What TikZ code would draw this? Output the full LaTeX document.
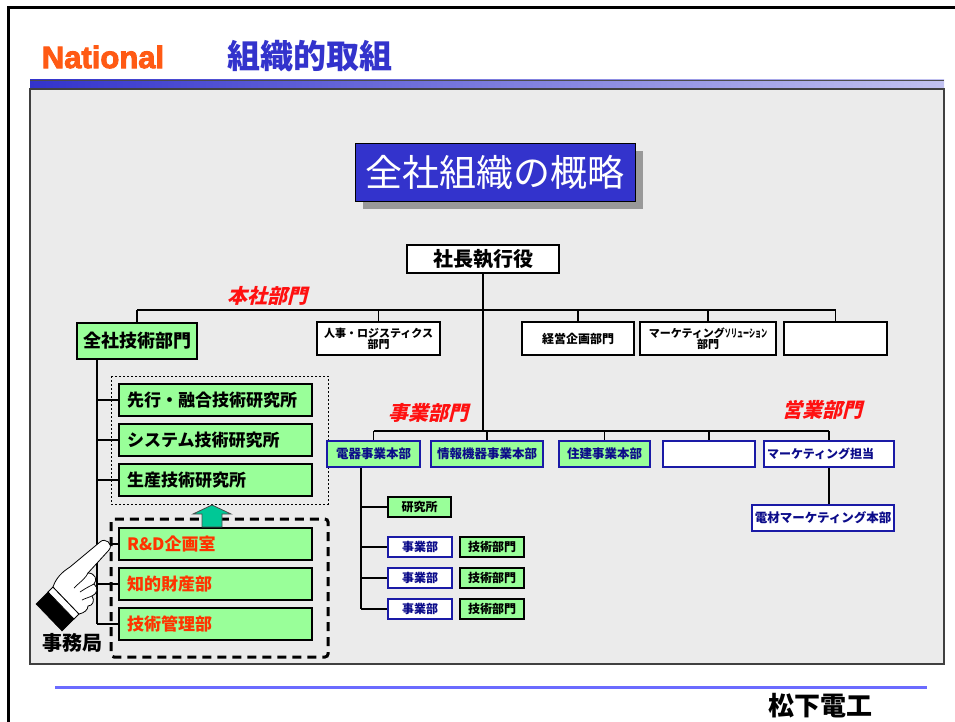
\documentclass[tikz,border=0pt]{standalone}
\usepackage{fontspec}
\setmainfont{Noto Sans CJK JP}
\newfontfamily\slantjp[FakeSlant=0.25]{Noto Sans CJK JP}
\newfontfamily\logofont[BoldFeatures={FakeBold=3}]{Liberation Sans}
\usetikzlibrary{positioning}

\definecolor{boxgreen}{HTML}{99FF99}
\definecolor{deptblue}{HTML}{1A1AA6}
\definecolor{deptnavy}{HTML}{0C0C8A}
\definecolor{titleblue}{HTML}{3333CC}
\definecolor{logored}{HTML}{FF5A14}
\definecolor{labelred}{HTML}{FF1010}
\definecolor{officered}{HTML}{FF3300}
\definecolor{panelgray}{HTML}{EBEBEB}
\definecolor{arrowteal}{HTML}{00C896}
\definecolor{footblue}{HTML}{6B6BFF}

\newcommand\psize[1]{\fontsize{#1}{#1}\selectfont}

\tikzset{
  line/.style={line width=1.2},
  greenbox/.style={draw=black, fill=boxgreen, line width=1.5, inner sep=1},
  whitebox/.style={draw=black, fill=white, line width=1.5, inner sep=1},
  bizbox/.style={draw=deptblue, fill=boxgreen, line width=1.5, inner sep=1, text=deptnavy, font=\psize{12.5}\bfseries, minimum height=26},
  bizwhite/.style={bizbox, fill=white},
  labbox/.style={greenbox, minimum height=32, text width=177, align=left, inner xsep=8, font=\psize{17}\bfseries},
  sectlabel/.style={text=labelred, font=\slantjp\bfseries\psize{20}},
  smallbox/.style={minimum width=64, minimum height=20, inner sep=1, font=\psize{12}\bfseries},
}

\begin{document}
\begin{tikzpicture}[x=1pt,y=-1pt]
  \useasboundingbox (0,0) rectangle (955,722);
  % page frame
  \draw[line width=3] (8,722) -- (8,8) -- (955,8);
  % header: logo, title and shaded bar
  \node[text=logored, font=\logofont\bfseries\psize{31}] (logo) at (103,57) {National};
  \node[text=titleblue, font=\psize{33}\bfseries] (title) at (310,56) {組織的取組};
  \shade[left color=titleblue, right color=titleblue!30] (30,80) rectangle (944,89);
  \draw[black!70] (30,80) -- (944,80);
  % grey panel
  \filldraw[fill=panelgray, draw=black!75, line width=1.2] (30,89) rectangle (944,664);
  % footer
  \draw[footblue, line width=3] (55,687) -- (927,687);
  \node[font=\psize{26}\bfseries] (company) at (820,706) {松下電工};

  % heading box with drop shadow
  \fill[black!40] (363,151) rectangle (643,209);
  \node[draw=black, fill=titleblue, text=white, minimum width=280, minimum height=58, font=\psize{37}] (head) at (495,172) {全社組織の概略};

  % top of the tree
  \node[whitebox, line width=2.5, minimum width=152, minimum height=28, font=\psize{20}\bfseries] (ceo) at (483,259) {社長執行役};
  \coordinate (hqbar) at (0,310);
  \coordinate (bizbar) at (0,431);
  \coordinate (tspine) at (97,0);
  \coordinate (dspine) at (361,0);

  % head office departments
  \node[sectlabel] (hqlabel) at (267,296) {本社部門};
  \node[greenbox, minimum width=120, minimum height=36, font=\psize{18}\bfseries] (tech) at (137,341) {全社技術部門};
  \node[whitebox, minimum width=123, minimum height=33, align=center, font=\psize{11}\bfseries] (hr) at (378.5,338.5) {人事・ロジスティクス\\部門};
  \node[whitebox, minimum width=112, minimum height=33, font=\psize{12}\bfseries] (plan) at (578,338.5) {経営企画部門};
  \node[whitebox, minimum width=136, minimum height=33, align=center, font=\psize{11}\bfseries] (mktsol) at (708,338.5) {マーケティング\scalebox{0.55}[1]{ソリューション}\\部門};
  \node[whitebox, minimum width=103, minimum height=33] (blank1) at (835.5,338.5) {};

  \draw[line] (ceo.south) -- (ceo.south |- bizbar);
  \draw[line] (tech.north |- hqbar) -- (blank1.north |- hqbar);
  \foreach \n in {tech,hr,plan,mktsol,blank1}
    \draw[line] (\n.north |- hqbar) -- (\n.north);

  % research labs and the office below them
  \draw[line width=0.7, dash pattern=on 2 off 2] (111,376) rectangle (328,504);
  \draw[line width=3, dash pattern=on 9 off 6, rounded corners=3] (111,519) rectangle (328,657);
  \node[labbox] (lab1) at (215.5,400) {先行・融合技術研究所};
  \node[labbox] (lab2) at (215.5,440) {システム技術研究所};
  \node[labbox] (lab3) at (215.5,480) {生産技術研究所};
  \node[labbox, text=officered] (rd) at (215.5,544) {R\&D企画室};
  \node[labbox, text=officered] (ip) at (215.5,584) {知的財産部};
  \node[labbox, text=officered] (mgmt) at (215.5,624) {技術管理部};
  \filldraw[fill=arrowteal, draw=black!70, line width=0.8] (202,527) -- (202,514) -- (193,514) -- (212,505) -- (231,514) -- (222,514) -- (222,527) -- cycle;

  \draw[line] (tech.south -| tspine) -- (mgmt.west -| tspine);
  \foreach \n in {lab1,lab2,lab3,rd,ip,mgmt}
    \draw[line] (\n.west -| tspine) -- (\n.west);

  % pointing hand
  \filldraw[fill=black] (36,604) -- (48,592) -- (74,619) -- (62,631) -- cycle;
  \filldraw[fill=white, line width=0.8] (48,592) -- (53,587) -- (79,614) -- (74,619) -- cycle;
  \filldraw[fill=white, line width=0.8] (53,587) .. controls (56,578) and (62,572) .. (70,567)
    -- (100,542) .. controls (105,537) and (114,544) .. (109,550) -- (88,573)
    .. controls (95,573) and (98,580) .. (94,584) .. controls (99,588) and (97,594) .. (92,596)
    .. controls (95,600) and (93,606) .. (88,606) .. controls (88,610) and (84,613) .. (79,614) -- cycle;
  \draw[line width=0.7] (74,588) .. controls (80,582) and (86,578) .. (88,573);
  \draw[line width=0.7] (80,592) .. controls (86,588) and (90,586) .. (94,584);
  \draw[line width=0.7] (82,600) .. controls (86,598) and (90,597) .. (92,596);
  \node[font=\psize{20}\bfseries] (office) at (72,643) {事務局};

  % business divisions
  \node[sectlabel] (bizlabel) at (428,413) {事業部門};
  \node[sectlabel] (saleslabel) at (822,410) {営業部門};
  \node[bizbox, minimum width=93] (den) at (373.5,454) {電器事業本部};
  \node[bizbox, minimum width=112] (info) at (487,454) {情報機器事業本部};
  \node[bizbox, minimum width=91] (juken) at (604.5,454) {住建事業本部};
  \node[bizwhite, minimum width=92] (blank2) at (709,454) {};
  \node[bizwhite, minimum width=130, text width=124, align=left, font=\psize{12}\bfseries] (mkt) at (829,454) {マーケティング担当};
  \node[bizwhite, minimum width=142] (denzai) at (823,518) {電材マーケティング本部};

  \draw[line] (den.north |- bizbar) -- (mkt.north |- bizbar);
  \foreach \n in {den,info,juken,blank2,mkt}
    \draw[line] (\n.north |- bizbar) -- (\n.north);
  \draw[line] (mkt.south) -- (mkt.south |- denzai.north);

  % units under the appliance division
  \node[greenbox, smallbox, minimum width=63] (res) at (419.5,507) {研究所};
  \node[bizwhite, smallbox] (jig1) at (420,547) {事業部};
  \node[bizwhite, smallbox] (jig2) at (420,578) {事業部};
  \node[bizwhite, smallbox] (jig3) at (420,609) {事業部};
  \node[greenbox, smallbox] (gij1) at (492,547) {技術部門};
  \node[greenbox, smallbox] (gij2) at (492,578) {技術部門};
  \node[greenbox, smallbox] (gij3) at (492,609) {技術部門};

  \draw[line] (den.south -| dspine) -- (jig3.west -| dspine);
  \foreach \n in {res,jig1,jig2,jig3}
    \draw[line] (\n.west -| dspine) -- (\n.west);
\end{tikzpicture}
\end{document}
